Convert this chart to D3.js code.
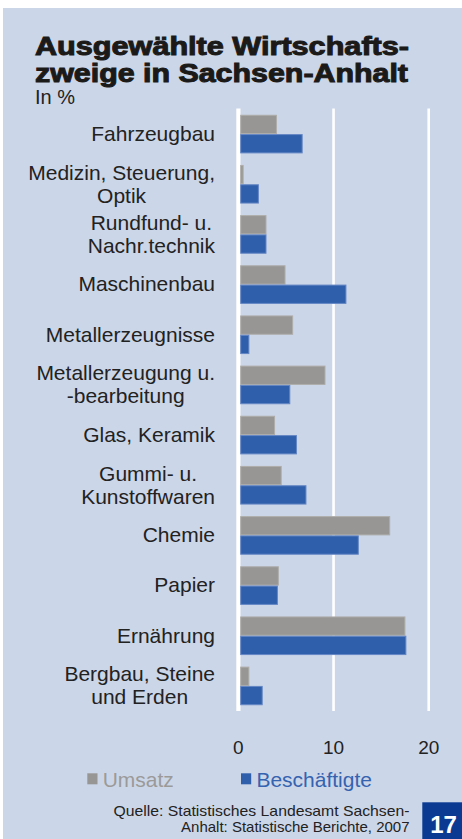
<!DOCTYPE html>
<html>
<head>
<meta charset="utf-8">
<script src="https://cdn.jsdelivr.net/npm/d3@7/dist/d3.min.js"></script>
<style>
    body { margin: 0; background: #fff; }
    svg { display: block; }
    text { font-family: "Liberation Sans", Arial, Helvetica, sans-serif; }
</style>
</head>
<body>
<div id="chart"></div>
<script>
// Daten (in %), von oben nach unten
const branchen = [
    "Fahrzeugbau",
    "Medizin, Steuerung,\nOptik",
    "Rundfund- u.\nNachr.technik",
    "Maschinenbau",
    "Metallerzeugnisse",
    "Metallerzeugung u.\n-bearbeitung",
    "Glas, Keramik",
    "Gummi- u.\nKunstoffwaren",
    "Chemie",
    "Papier",
    "Ernährung",
    "Bergbau, Steine\nund Erden"
];
const umsatz = [4.0, 0.5, 2.9, 4.9, 5.7, 9.1, 3.8, 4.5, 15.9, 4.2, 17.5, 1.1];
const beschaeftigte = [6.7, 2.1, 2.9, 11.3, 1.1, 5.4, 6.1, 7.1, 12.6, 4.1, 17.6, 2.5];
const serien = ["Umsatz", "Beschäftigte"];
const xTicks = [0, 10, 20];

const width = 462, height = 839;
const colors = { Umsatz: "#979694", "Beschäftigte": "#2f5fab" };
const strokes = { Umsatz: "#aeadab", "Beschäftigte": "#6486c4" };
const legendText = { Umsatz: "#9b9a98", "Beschäftigte": "#3563b0" };

const rows = branchen.map((name, i) => ({
    name,
    values: [
        { key: "Umsatz", value: umsatz[i] },
        { key: "Beschäftigte", value: beschaeftigte[i] }
    ]
}));

const svg = d3.select("#chart")
    .append("svg")
    .attr("width", width)
    .attr("height", height);

// Hintergrund
svg.append("rect")
    .attr("x", 3).attr("y", 8)
    .attr("width", width - 3).attr("height", height - 8)
    .attr("fill", "#cbd6e8");

// Titel
const title = svg.append("g")
    .attr("fill", "#1b1a19")
    .attr("stroke", "#1b1a19")
    .attr("stroke-width", 1)
    .attr("font-weight", "bold")
    .attr("font-size", 25);

title.append("text")
    .attr("x", 35).attr("y", 54.5)
    .attr("textLength", 374)
    .attr("lengthAdjust", "spacingAndGlyphs")
    .text("Ausgewählte Wirtschafts-");

title.append("text")
    .attr("x", 35).attr("y", 81.5)
    .attr("textLength", 373)
    .attr("lengthAdjust", "spacingAndGlyphs")
    .text("zweige in Sachsen-Anhalt");

svg.append("text")
    .attr("x", 35).attr("y", 104)
    .attr("font-size", 20)
    .attr("fill", "#222")
    .text("In %");

// Skalen
const x = d3.scaleLinear()
    .domain([0, 20])
    .range([238.4, 428.7]);

const y = d3.scaleBand()
    .domain(branchen)
    .range([109, 711])
    .paddingInner(0.23)
    .paddingOuter(0.115);

const ySub = d3.scaleBand()
    .domain(serien)
    .range([0, y.bandwidth()]);

// Gitterlinien
svg.append("g")
    .selectAll("line")
    .data(xTicks)
    .enter()
    .append("line")
    .attr("x1", (d) => x(d))
    .attr("x2", (d) => x(d))
    .attr("y1", 108.5)
    .attr("y2", 711)
    .attr("stroke", "#fff")
    .attr("stroke-width", (d) => d === 0 ? 4.2 : 2.6);

// Balken
const groups = svg.append("g")
    .selectAll(".branche")
    .data(rows)
    .enter()
    .append("g")
    .attr("class", "branche")
    .attr("transform", (d) => `translate(0, ${y(d.name)})`);

groups.selectAll("rect")
    .data((d) => d.values)
    .enter()
    .append("rect")
    .attr("x", x(0) + 2.3)
    .attr("y", (d) => ySub(d.key) + 0.5)
    .attr("width", (d) => Math.max(0, x(d.value) - x(0) - 2.3))
    .attr("height", ySub.bandwidth() - 1)
    .attr("fill", (d) => colors[d.key])
    .attr("stroke", (d) => strokes[d.key])
    .attr("stroke-width", 1);

// Kategorienbeschriftung (mehrzeilig, zentriert, Block rechtsbündig)
const labelRight = 215;
const lineHeight = 23.3;

rows.forEach((row) => {
    const lines = row.name.split("\n");
    const cy = y(row.name) + y.bandwidth() / 2;
    const label = svg.append("text")
        .attr("font-size", 21)
        .attr("fill", "#222")
        .attr("text-anchor", "middle");
    lines.forEach((line, i) => {
        label.append("tspan")
            .attr("y", cy + 6.9 + (i - (lines.length - 1) / 2) * lineHeight)
            .text(line);
    });
    let maxW = 0;
    label.selectAll("tspan").each(function () {
        maxW = Math.max(maxW, this.getComputedTextLength());
    });
    label.selectAll("tspan").attr("x", labelRight - maxW / 2);
});

// x-Achse
svg.append("g")
    .selectAll("text")
    .data(xTicks)
    .enter()
    .append("text")
    .attr("x", (d) => x(d))
    .attr("y", 754)
    .attr("text-anchor", "middle")
    .attr("font-size", 19)
    .attr("fill", "#222")
    .text((d) => d);

// Legende
const legendX = { Umsatz: 87.3, "Beschäftigte": 241 };
const legend = svg.append("g")
    .selectAll("g")
    .data(serien)
    .enter()
    .append("g")
    .attr("transform", (d) => `translate(${legendX[d]}, 773.3)`);

legend.append("rect")
    .attr("width", 10.2)
    .attr("height", 11)
    .attr("fill", (d) => colors[d]);

legend.append("text")
    .attr("x", 15.4)
    .attr("y", 13.4)
    .attr("font-size", 21)
    .attr("fill", (d) => legendText[d])
    .text((d) => d);

// Quelle
const quelle = svg.append("text")
    .attr("text-anchor", "end")
    .attr("font-size", 15)
    .attr("fill", "#222");
quelle.append("tspan").attr("x", 409.5).attr("y", 815.5)
    .attr("textLength", 296)
    .attr("lengthAdjust", "spacingAndGlyphs")
    .text("Quelle: Statistisches Landesamt Sachsen-");
quelle.append("tspan").attr("x", 409.5).attr("y", 832)
    .text("Anhalt: Statistische Berichte, 2007");

// Seitenzahl
svg.append("rect")
    .attr("x", 422.3).attr("y", 802.3)
    .attr("width", width - 422.3).attr("height", height - 802.3)
    .attr("fill", "#0b3a93");

svg.append("text")
    .attr("x", 443.5).attr("y", 832.7)
    .attr("text-anchor", "middle")
    .attr("font-size", 24)
    .attr("font-weight", "bold")
    .attr("fill", "#fff")
    .text("17");
</script>
</body>
</html>
